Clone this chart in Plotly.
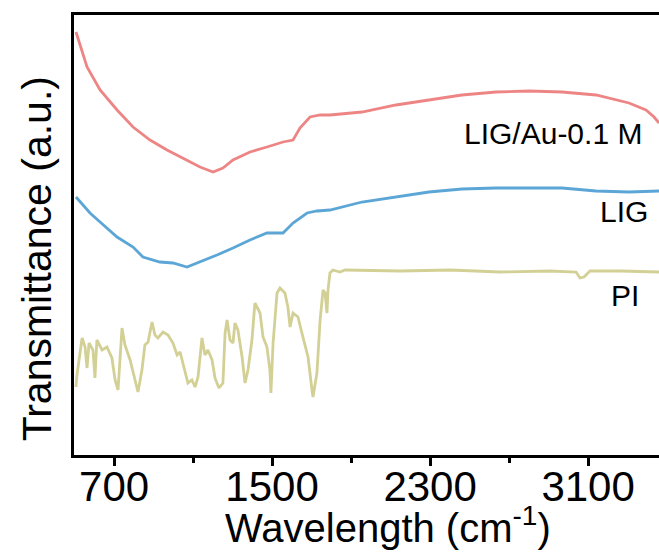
import plotly.graph_objects as go

# Wavenumber (cm^-1) and transmittance (a.u.) values
au_x = [507, 563, 629, 715, 796, 882, 968, 1049, 1135, 1201, 1251, 1302, 1388, 1474,
        1555, 1606, 1641, 1692, 1743, 1793, 1955, 2127, 2294, 2461, 2634, 2801, 2968,
        3140, 3307, 3393, 3434, 3459]
au_y = [423, 388, 365, 345, 328, 315, 305, 297, 288, 283, 287, 295, 303, 308,
        313, 315, 327, 338, 340, 340, 343, 350, 355, 360, 363, 364, 363,
        360, 352, 345, 338, 332]

lig_x = [507, 578, 629, 715, 796, 846, 932, 998, 1069, 1135, 1221, 1302, 1388, 1474,
         1555, 1606, 1677, 1727, 1793, 1955, 2127, 2294, 2461, 2634, 2801, 2968,
         3140, 3307, 3459]
lig_y = [258, 242, 233, 218, 208, 198, 193, 192, 188, 193, 200, 207, 215, 222,
         222, 232, 242, 244, 245, 253, 258, 263, 266, 267, 267, 267,
         264, 263, 264]

pi_x = [507, 512, 538, 553, 563, 573, 593, 603, 613, 639, 664, 689, 705, 720, 740,
        755, 781, 806, 821, 841, 856, 872, 892, 907, 922, 948, 973, 998, 1019, 1034,
        1059, 1074, 1094, 1110, 1125, 1145, 1160, 1175, 1196, 1211, 1231, 1251, 1262,
        1272, 1287, 1302, 1312, 1327, 1348, 1363, 1378, 1398, 1413, 1439, 1454, 1474,
        1489, 1494, 1505, 1525, 1540, 1565, 1580, 1591, 1606, 1631, 1656, 1682, 1702,
        1707, 1727, 1743, 1758, 1768, 1778, 1783, 1793, 1808, 1844, 1869, 2148, 2401,
        2654, 2907, 3039, 3059, 3079, 3110, 3262, 3459]
pi_y = [68, 80, 117, 108, 87, 112, 105, 77, 115, 105, 108, 97, 75, 65, 127,
        110, 95, 75, 63, 85, 110, 113, 133, 120, 117, 123, 120, 112, 100, 103,
        85, 72, 75, 68, 78, 117, 100, 105, 95, 77, 67, 72, 122,
        135, 115, 112, 132, 125, 98, 72, 85, 115, 152, 142, 118, 108,
        85, 62, 112, 162, 167, 162, 148, 128, 142, 138, 118, 98, 65,
        58, 82, 135, 165, 162, 142, 165, 182, 185, 183, 185, 184, 185,
        183, 184, 183, 177, 178, 184, 184, 183]

labels = ["LIG/Au-0.1 M", "LIG", "PI"]
label_x = [3383, 3413, 3368]
label_y = [322, 244, 160]

x_ticks = [700, 1500, 2300, 3100]

FONT = "Liberation Sans, Arial, sans-serif"

fig = go.Figure()
fig.add_trace(go.Scatter(x=au_x, y=au_y, mode="lines", line=dict(color="#EE8585", width=2.8)))
fig.add_trace(go.Scatter(x=lig_x, y=lig_y, mode="lines", line=dict(color="#5BA6D6", width=2.8)))
fig.add_trace(go.Scatter(x=pi_x, y=pi_y, mode="lines", line=dict(color="#D3D095", width=2.8)))

for t, x, y in zip(labels, label_x, label_y):
    fig.add_annotation(x=x, y=y, text=t, showarrow=False, xanchor="right", yanchor="middle",
                       font=dict(family=FONT, size=30, color="black"))

fig.add_annotation(xref="paper", yref="paper", x=-0.063, y=0.445, text="Transmittance (a.u.)",
                   textangle=-90, showarrow=False, xanchor="center", yanchor="middle",
                   font=dict(family=FONT, size=41, color="black"))
fig.add_annotation(xref="paper", yref="paper", x=0.537, y=-0.16, text="Wavelength (cm<sup>-1</sup>)",
                   showarrow=False, xanchor="center", yanchor="middle",
                   font=dict(family=FONT, size=40, color="black"))

fig.update_layout(
    width=659, height=552,
    margin=dict(l=74, r=0, t=15, b=97, autoexpand=False),
    paper_bgcolor="white", plot_bgcolor="white",
    showlegend=False,
    font=dict(family=FONT, color="black"),
)
fig.update_xaxes(
    range=[497, 3459], showgrid=False, zeroline=False,
    showline=True, linecolor="black", linewidth=2.6, mirror=True,
    tickmode="array", tickvals=x_ticks, ticktext=[str(v) for v in x_ticks],
    ticks="outside", ticklen=8, tickwidth=2.6, tickcolor="black",
    tickfont=dict(family=FONT, size=42, color="black"),
    ticklabelstandoff=-15, automargin=False,
    minor=dict(ticks="outside", ticklen=5, tickwidth=2.6, tickcolor="black",
               tickmode="array", tickvals=[1100, 1900, 2700]),
)
fig.update_yaxes(
    range=[0, 440], showgrid=False, zeroline=False,
    showline=True, linecolor="black", linewidth=2.6,
    showticklabels=False, ticks="", automargin=False,
)

fig.write_html("out.html", config={"displayModeBar": False},
               post_script="document.body.style.margin='0';")
